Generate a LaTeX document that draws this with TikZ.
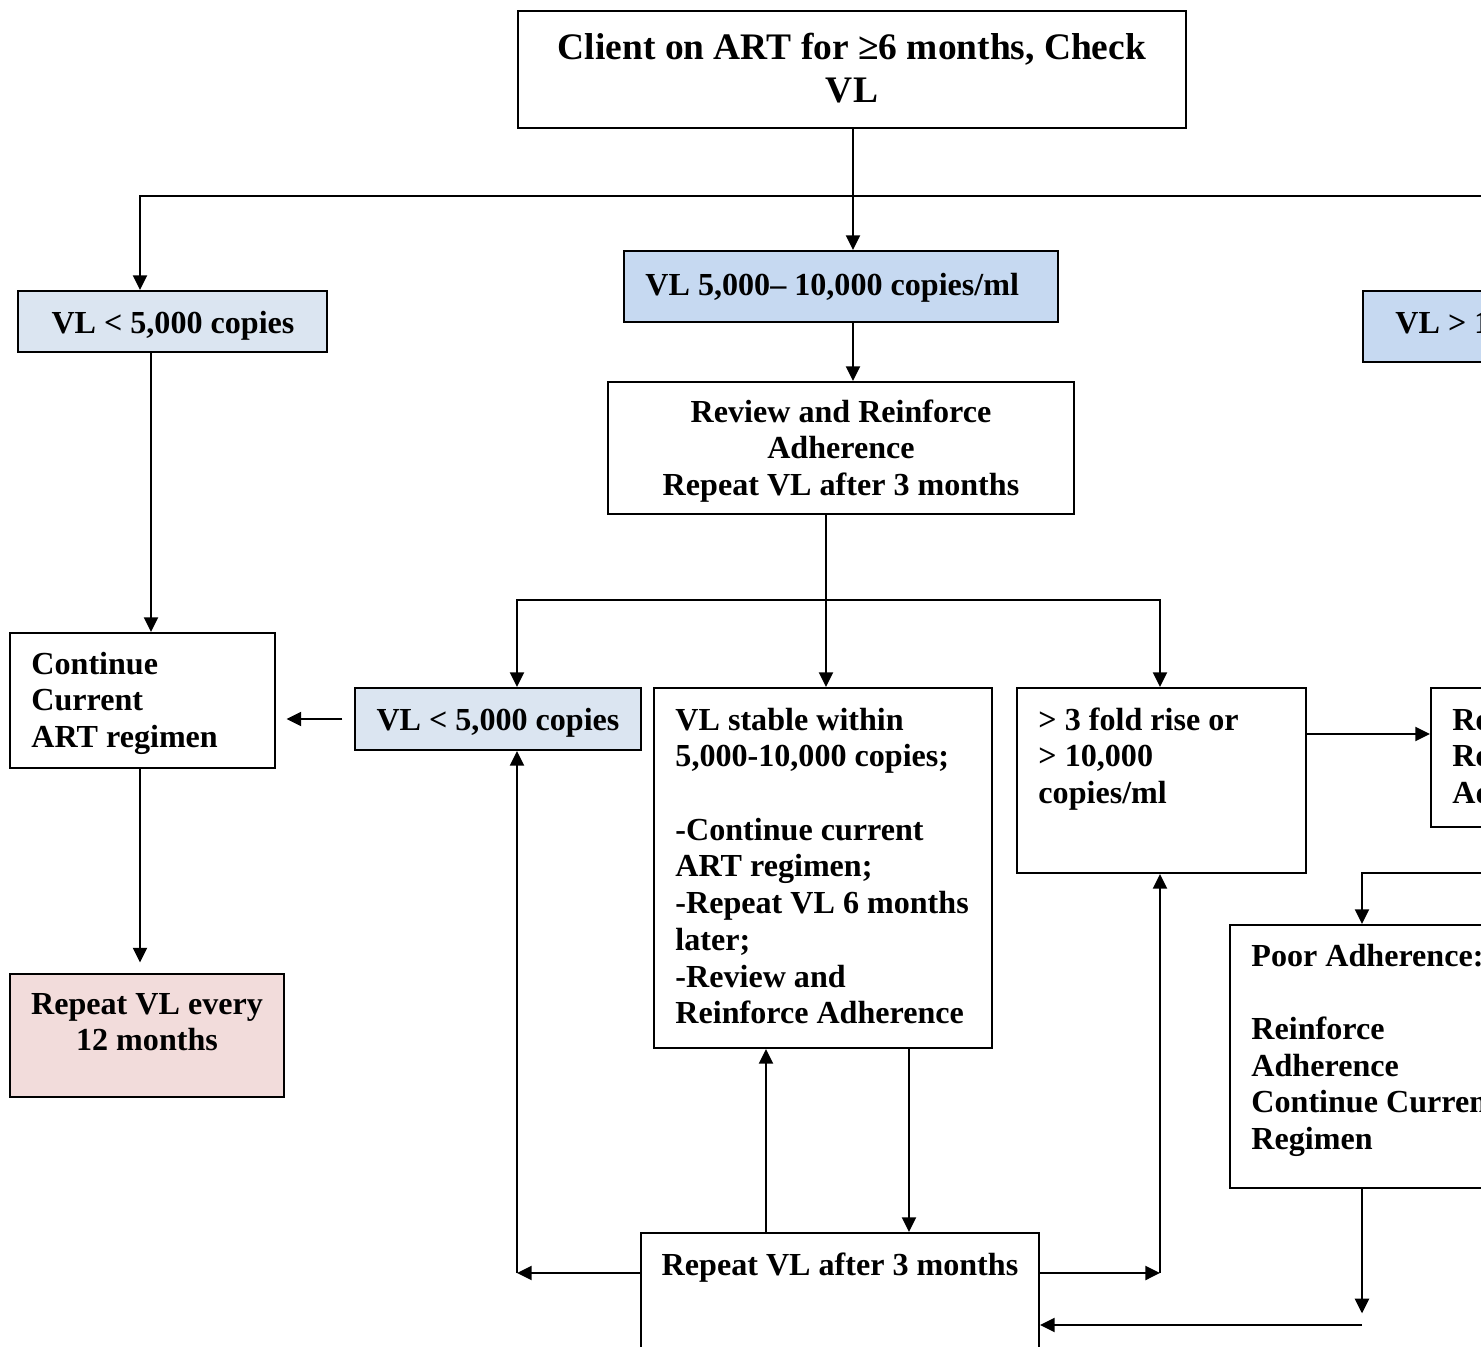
\documentclass[tikz,border=0pt]{standalone}
\usepackage{fontspec}
\setmainfont{Liberation Serif}
\usetikzlibrary{arrows.meta,calc,fit}
\definecolor{vlblue}{HTML}{C6D9F1}
\definecolor{vlpale}{HTML}{DBE5F1}
\definecolor{rosebox}{HTML}{F2DCDB}
\newcommand\boxfont[2]{\fontsize{#1}{#2}\selectfont\bfseries}
\tikzset{
	box/.style={draw, line width=0.9pt, inner sep=0pt},
	txt/.style={inner sep=0pt, text width=#1, align=flush left,
		font=\boxfont{13.8}{15.8}},
	txt/.default=150pt,
	ctxt/.style={txt=#1, align=flush center},
	line/.style={line width=1pt},
	arr/.style={line, -{Triangle[length=6.3pt,width=6pt]}}
}
\begin{document}
\begin{tikzpicture}[x=0.43pt, y=-0.43pt]
		\useasboundingbox (0,0) rectangle (1481,1346);
		\clip (0,0) rectangle (1481,1346);
		% boxes
		\node[box, fit={(518,11) (1186,128)}] (top) {};
		\node[box, fill=vlpale, fit={(18,291) (327,352)}] (vllow) {};
		\node[box, fill=vlblue, fit={(624,251) (1058,322)}] (vlmid) {};
		\node[box, fill=vlblue, fit={(1363,291) (1700,362)}] (vlhigh) {};
		\node[box, fit={(608,382) (1074,514)}] (review) {};
		\node[box, fit={(10,633) (275,768)}] (cont) {};
		\node[box, fill=rosebox, fit={(10,974) (284,1097)}] (rep12) {};
		\node[box, fill=vlpale, fit={(355,688) (641,750)}] (vllow2) {};
		\node[box, fit={(654,688) (992,1048)}] (stable) {};
		\node[box, fit={(1017,688) (1306,873)}] (fold) {};
		\node[box, fit={(1431,688) (1700,827)}] (rebox) {};
		\node[box, fit={(1230,925) (1520,1188)}] (poor) {};
		\node[box, fit={(641,1233) (1039,1420)}] (rep3) {};
		% texts
		\node[ctxt=287pt, font=\boxfont{16.1}{18.6}, anchor=base] (top-t) at (852,59)
			{Client on ART for ≥6 months, Check\\VL};
		\node[txt=200pt, anchor=base west] (vlmid-t) at (645,295) {VL 5,000-- 10,000 copies/ml};
		\node[ctxt=130pt, anchor=base] (vllow-t) at (173,333) {VL < 5,000 copies};
		\node[txt=200pt, anchor=base west] (vlhigh-t) at (1395,333) {VL > 10,000 copies/ml};
		\node[ctxt=200pt, anchor=base] (review-t) at (841,422)
			{Review and Reinforce\\Adherence\\Repeat VL after 3 months};
		\node[txt, anchor=base west] (cont-t) at (31,674) {Continue\\Current\\ART regimen};
		\node[ctxt=115pt, anchor=base] (rep12-t) at (147,1014) {Repeat VL every\\12 months};
		\node[ctxt=120pt, anchor=base] (vllow2-t) at (498,730) {VL < 5,000 copies};
		\node[txt, anchor=base west] (stable-t) at (675,730)
			{VL stable within\\5,000-10,000 copies;\\[15.8pt]-Continue current\\ART regimen;\\-Repeat VL 6 months\\later;\\-Review and\\Reinforce Adherence};
		\node[txt, anchor=base west] (fold-t) at (1038,730) {> 3 fold rise or\\> 10,000\\copies/ml};
		\node[txt, anchor=base west] (rebox-t) at (1452,730) {Review and\\Reinforce\\Adherence};
		\node[txt, anchor=base west] (poor-t) at (1251,966)
			{Poor Adherence:\\[15.8pt]Reinforce\\Adherence\\Continue Current\\Regimen};
		\node[ctxt=200pt, anchor=base] (rep3-t) at (840,1275) {Repeat VL after 3 months};
		% junctions
		\coordinate (bus1) at (853,196);
		\coordinate (bus2) at (826,600);
		\coordinate (left1) at (140,0);
		\coordinate (left2) at (151,0);
		\coordinate (up) at (766,0);
		\coordinate (down) at (909,0);
		\coordinate (loopL) at (517,1273);
		\coordinate (loopR) at (1160,1273);
		\coordinate (feed) at (1700,873);
		\coordinate (back) at (1362,1325);
		% connectors
		\draw[line] (top.south -| bus1) -- (bus1);
		\draw[arr] (bus1) -- (vlmid.north -| bus1);
		\draw[arr] (bus1) -| (vllow.north -| left1);
		\draw[arr] (bus1) -| (vlhigh.north);
		\draw[arr] (vlmid.south -| bus1) -- (review.north -| bus1);
		\draw[line] (review.south -| bus2) -- (bus2);
		\draw[arr] (bus2) -- (stable.north -| bus2);
		\draw[arr] (bus2) -| (vllow2.north -| loopL);
		\draw[arr] (bus2) -| (fold.north -| loopR);
		\draw[arr] (vllow.south -| left2) -- (cont.north -| left2);
		\draw[arr, shorten >=4.5pt] (cont.south -| left1) -- (rep12.north -| left1);
		\draw[arr, shorten <=5pt, shorten >=4.5pt] (vllow2.west) -- (vllow2.west -| cont.east);
		\draw[arr] ($(fold.north east)+(0,47)$) -- ($(rebox.north west)+(0,47)$);
		\draw[arr] (feed) -| (poor.north -| back);
		\draw[arr, shorten >=5pt] (poor.south -| back) -- (back);
		\draw[arr] (back) -- (rep3.east |- back);
		\draw[arr] (rep3.west |- loopL) -- (loopL);
		\draw[arr] (loopL) -- (vllow2.south -| loopL);
		\draw[arr] (rep3.east |- loopR) -- (loopR);
		\draw[arr] (loopR) -- (fold.south -| loopR);
		\draw[arr] (rep3.north -| up) -- (stable.south -| up);
		\draw[arr] (stable.south -| down) -- (rep3.north -| down);
\end{tikzpicture}
\end{document}
